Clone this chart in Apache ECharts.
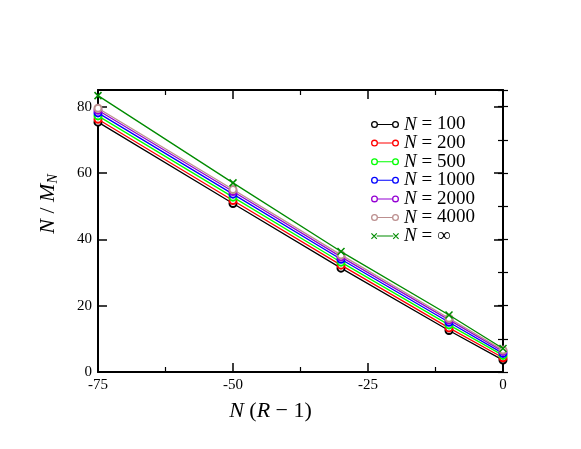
<!DOCTYPE html>
<html>
<head>
<meta charset="utf-8">
<script src="https://cdn.jsdelivr.net/npm/echarts@6/dist/echarts.min.js"></script>
<style>
  html, body { margin: 0; padding: 0; background: #fff; }
  #chart { width: 581px; height: 449px; }
</style>
</head>
<body>
<div id="chart"></div>
<script>
// x positions: N (R - 1)
const xValues = [-75, -50, -30, -10, 0]

const seriesNames = ['100', '200', '500', '1000', '2000', '4000', '∞']
const seriesColors = ['#000000', '#ff0000', '#00ff00', '#0000ff', '#9400d3', '#bc8f8f', '#008b00']

const n100 = [75.3, 50.8, 31.3, 12.5, 3.6]
const n200 = [76.2, 51.7, 32.2, 13.3, 4.3]
const n500 = [77.2, 52.7, 33.1, 14.2, 5.0]
const n1000 = [78.1, 53.6, 34.0, 15.0, 5.6]
const n2000 = [78.9, 54.4, 34.7, 15.7, 6.2]
const n4000 = [79.5, 55.0, 35.3, 16.2, 6.6]
const nInf = [83.3, 57.0, 36.3, 17.2, 7.1]

const allValues = [n100, n200, n500, n1000, n2000, n4000, nInf]

// legend icons: line with a ring (or cross) at both ends
const ringIcon = 'path://' +
  'M0,3.5 A3.5,3.5 0 1,1 7,3.5 A3.5,3.5 0 1,1 0,3.5 Z ' +
  'M1.3,3.5 A2.2,2.2 0 1,0 5.7,3.5 A2.2,2.2 0 1,0 1.3,3.5 Z ' +
  'M21,3.5 A3.5,3.5 0 1,1 28,3.5 A3.5,3.5 0 1,1 21,3.5 Z ' +
  'M22.3,3.5 A2.2,2.2 0 1,0 26.7,3.5 A2.2,2.2 0 1,0 22.3,3.5 Z ' +
  'M7,3 L21,3 L21,4 L7,4 Z'
const crossIcon = 'path://' +
  'M0.5,1.3 L1.3,0.5 L6.5,5.7 L5.7,6.5 Z M5.7,0.5 L6.5,1.3 L1.3,6.5 L0.5,5.7 Z ' +
  'M21.5,1.3 L22.3,0.5 L27.5,5.7 L26.7,6.5 Z M26.7,0.5 L27.5,1.3 L22.3,6.5 L21.5,5.7 Z ' +
  'M6,3 L22,3 L22,4 L6,4 Z'

const serif = '"Liberation Serif", "DejaVu Serif", serif'
const ink = '#000'

const chart = echarts.init(document.getElementById('chart'), null, { renderer: 'canvas' })

const boxAxis = (extra) => Object.assign({
  type: 'value',
  min: 0,
  axisLine: { show: true, onZero: false, lineStyle: { color: ink, width: 2 } },
  splitLine: { show: false },
  axisLabel: { show: false },
}, extra)

const majorTick = { inside: true, length: 9, lineStyle: { color: ink, width: 1.5 } }
const minorTick = { inside: true, length: 5, lineStyle: { color: ink, width: 1.2 } }
const italic = (size) => ({ fontFamily: serif, fontSize: size, fontStyle: 'italic', color: ink })

chart.setOption({
  animation: false,
  backgroundColor: '#fff',
  grid: { left: 98, right: 78, top: 90, bottom: 77, containLabel: false },
  legend: {
    orient: 'vertical',
    left: 366,
    top: 110,
    itemWidth: 28,
    itemHeight: 7,
    itemGap: -0.4,
    selectedMode: false,
    itemStyle: { borderWidth: 0 },
    textStyle: {
      fontFamily: serif, fontSize: 19, color: ink,
      rich: { i: italic(19) },
    },
    formatter: (name) => '{i|N} = ' + name,
    data: seriesNames.map((name, i) => ({ name, icon: i === 6 ? crossIcon : ringIcon })),
  },
  xAxis: [
    boxAxis({
      min: -75, max: 0, interval: 25, position: 'bottom',
      name: '{i|N} ({i|R} − 1)',
      nameLocation: 'middle',
      nameGap: 28,
      nameTextStyle: {
        fontFamily: serif, fontSize: 22, color: ink, padding: [0, 60, 0, 0],
        rich: { i: italic(22) },
      },
      axisTick: majorTick,
      minorTick: Object.assign({ show: true, splitNumber: 2 }, minorTick),
      axisLabel: { show: true, fontFamily: serif, fontSize: 15, color: ink, margin: 6 },
    }),
    boxAxis({
      min: -75, max: 0, interval: 25, position: 'top',
      axisTick: majorTick,
      minorTick: Object.assign({ show: true, splitNumber: 2 }, minorTick),
    }),
  ],
  yAxis: [
    boxAxis({
      max: 85, interval: 20, position: 'left',
      name: '{i|N} / {i|M}{sub|N}',
      nameLocation: 'middle',
      nameRotate: 90,
      nameGap: 38,
      nameTextStyle: {
        fontFamily: serif, fontSize: 22, color: ink, padding: [0, 0, 0, 54],
        rich: {
          i: italic(22),
          sub: Object.assign(italic(14), { verticalAlign: 'bottom', padding: [10, 0, 0, 0] }),
        },
      },
      axisTick: majorTick,
      axisLabel: { show: true, fontFamily: serif, fontSize: 15, color: ink, margin: 6, showMaxLabel: false },
    }),
    boxAxis({
      max: 85, interval: 10, position: 'left',
      axisLine: { show: false },
      axisTick: minorTick,
    }),
    boxAxis({
      max: 85, interval: 20, position: 'right',
      axisTick: majorTick,
    }),
    boxAxis({
      max: 85, interval: 10, position: 'right',
      axisLine: { show: false },
      axisTick: minorTick,
    }),
  ],
  series: allValues.map((vals, i) => ({
    name: seriesNames[i],
    type: 'line',
    xAxisIndex: 0,
    yAxisIndex: 0,
    data: xValues.map((x, j) => [x, vals[j]]),
    symbol: i === 6 ? 'path://M0,0 L10,10 M10,0 L0,10' : 'emptyCircle',
    symbolSize: 7,
    color: seriesColors[i],
    lineStyle: { color: seriesColors[i], width: 1.3 },
    itemStyle: { color: seriesColors[i], borderColor: seriesColors[i], borderWidth: 1.5 },
    z: 2 + i,
  })),
})
</script>
</body>
</html>
